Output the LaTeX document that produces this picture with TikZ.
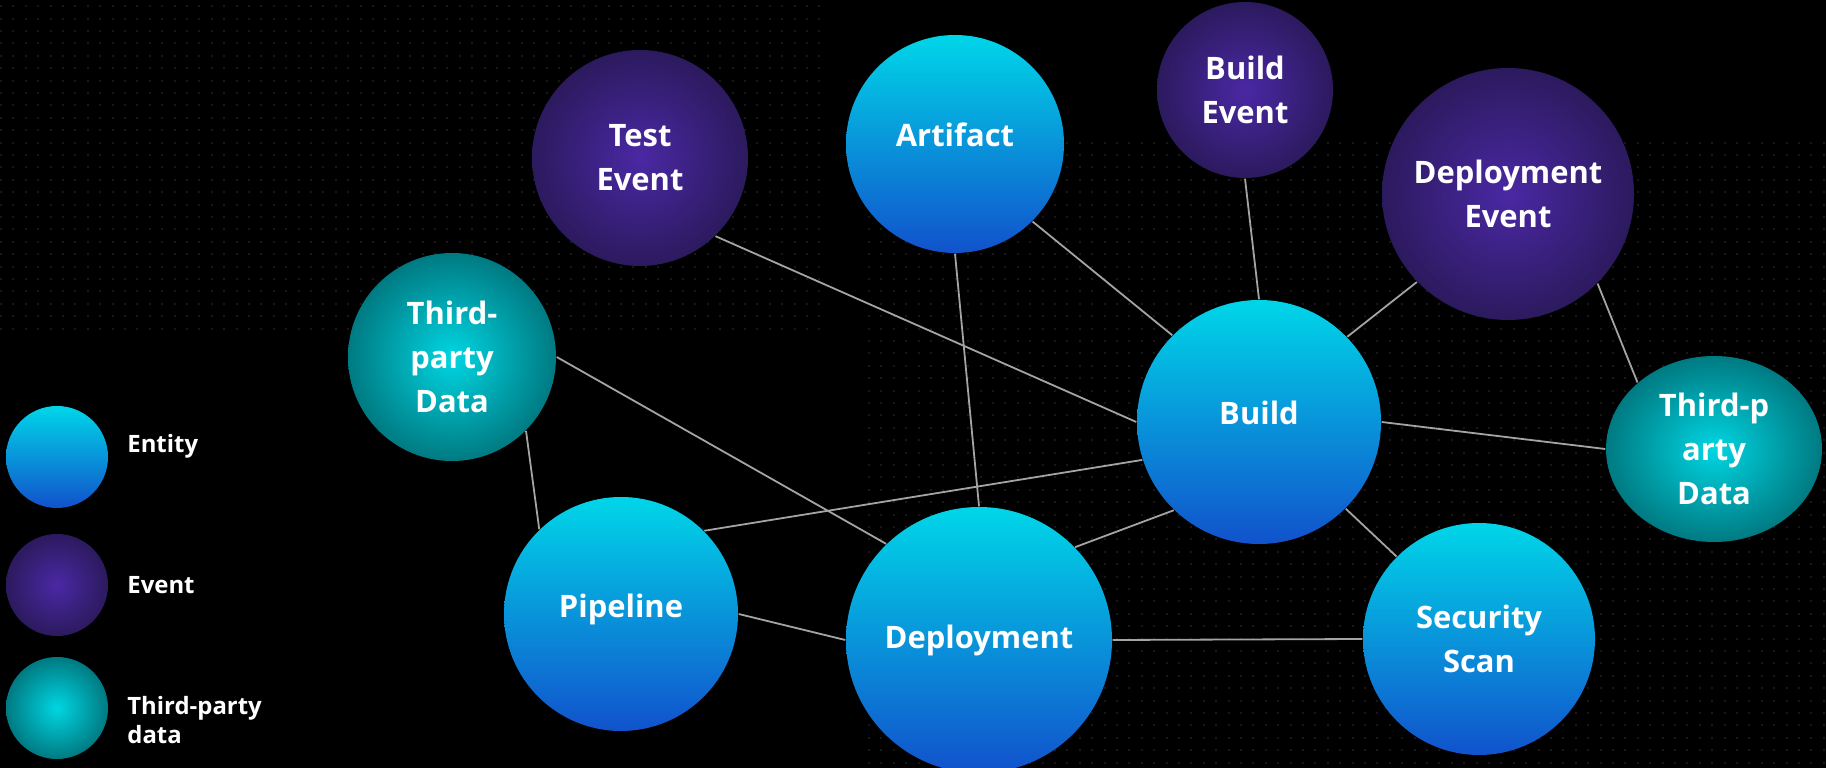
\documentclass[tikz,border=0pt]{standalone}
\usepackage{fontspec}
\setmainfont{Open Sans}
\usepackage{xcolor}
\usepackage{tikz}
\usetikzlibrary{shapes.geometric, positioning, backgrounds}

\definecolor{entTop}{HTML}{00D6E8}
\definecolor{entBot}{HTML}{1152CC}
\definecolor{evIn}{HTML}{4A28A4}
\definecolor{evOut}{HTML}{2C1A5E}
\definecolor{tpIn}{HTML}{00D6E2}
\definecolor{tpOut}{HTML}{007A82}
\definecolor{linkgray}{HTML}{A4A4A4}
\definecolor{dotgray}{HTML}{181818}

% shadings fill the 25bp..75bp part of the box
\pgfdeclareverticalshading{entityshade}{100bp}{color(0bp)=(entBot); color(25bp)=(entBot); color(75bp)=(entTop); color(100bp)=(entTop)}
\pgfdeclareradialshading{eventshade}{\pgfpoint{0bp}{0bp}}{color(0bp)=(evIn); color(25bp)=(evOut); color(50bp)=(evOut)}
\pgfdeclareradialshading{thirdshade}{\pgfpoint{0bp}{0bp}}{color(0bp)=(tpIn); color(25bp)=(tpOut); color(50bp)=(tpOut)}

\newcommand{\orbfont}{\fontsize{8.8}{12.5}\selectfont\bfseries}
\newcommand{\keyfont}{\fontsize{6.8}{8.2}\selectfont\bfseries}

\begin{document}
\begin{tikzpicture}[
    x=0.1mm, y=-0.1mm,
    orb/.style={circle, inner sep=0pt, text=white, align=center, font=\orbfont},
    entity/.style={orb, shading=entityshade},
    event/.style={orb, shading=eventshade},
    thirdparty/.style={orb, shading=thirdshade},
    lifted/.style={text height=2.4mm, text depth=1.8mm},
    keytext/.style={inner sep=0pt, text=white, align=left, font=\keyfont},
    link/.style={draw=linkgray, line width=0.18mm},
    griddot/.style={draw=dotgray, line width=0.2mm, dash pattern=on 0.2mm off 1.04mm}
]
    % Background and dot grid
    \useasboundingbox (0,0) rectangle (1826,768);
    \fill [black] (0,0) rectangle (1826,768);
    \foreach \gy in {6.2,18.6,...,330} \draw [griddot] (0,\gy) -- (830,\gy);
    \foreach \gy in {142.6,155,...,768} \draw [griddot] (868,\gy) -- (1826,\gy);

    % Entities
    \node (artifact) [entity, lifted, minimum size=21.8mm] at (955,144) {Artifact};
    \node (build) [entity, lifted, minimum size=24.4mm] at (1259,422) {Build};
    \node (pipeline) [entity, lifted, minimum size=23.4mm] at (621,614) {Pipeline};
    \node (deployment) [entity, minimum size=26.6mm] at (979,640) {Deployment};
    \node (secscan) [entity, minimum size=23.2mm] at (1479,639) {Security\\Scan};

    % Events
    \node (testev) [event, minimum size=21.6mm] at (640,158) {Test\\Event};
    \node (buildev) [event, minimum size=17.6mm] at (1245,90) {Build\\Event};
    \node (deployev) [event, minimum size=25.2mm] at (1508,194) {Deployment\\Event};

    % Third-party data
    \node (thirdl) [thirdparty, minimum size=20.8mm] at (452,357) {Third-\\party\\Data};
    \node (thirdr) [thirdparty, ellipse, minimum width=21.6mm, minimum height=18.6mm] at (1714,449) {Third-p\\arty\\Data};

    % Links
    \draw [link] (testev.-46) -- (build.180);
    \draw [link] (artifact.-45) -- (build.135);
    \draw [link] (artifact.-90) -- (deployment.90);
    \draw [link] (buildev.-90) -- (build.90);
    \draw [link] (deployev.-136) -- (build.44);
    \draw [link] (deployev.-45) -- (thirdr.139);
    \draw [link] (build.0) -- (thirdr.180);
    \draw [link] (build.-45) -- (secscan.135);
    \draw [link] (build.-134) -- (deployment.44);
    \draw [link] (build.-162) -- (pipeline.45);
    \draw [link] (thirdl.0) -- (deployment.134);
    \draw [link] (thirdl.-45) -- (pipeline.134);
    \draw [link] (pipeline.0) -- (deployment.180);
    \draw [link] (deployment.0) -- (secscan.180);

    % Legend
    \node (keyentity) [entity, minimum size=10.2mm] at (57,457) {};
    \node (keyevent) [event, minimum size=10.2mm] at (57,585) {};
    \node (keythird) [thirdparty, minimum size=10.2mm] at (57,708) {};
    \node (keyentity_lbl) [keytext, right=1.8mm of keyentity, yshift=1.1mm] {Entity};
    \node (keyevent_lbl) [keytext, right=1.8mm of keyevent] {Event};
    \node (keythird_lbl) [keytext, right=1.8mm of keythird, yshift=-1.2mm] {Third-party\\data};
\end{tikzpicture}
\end{document}
